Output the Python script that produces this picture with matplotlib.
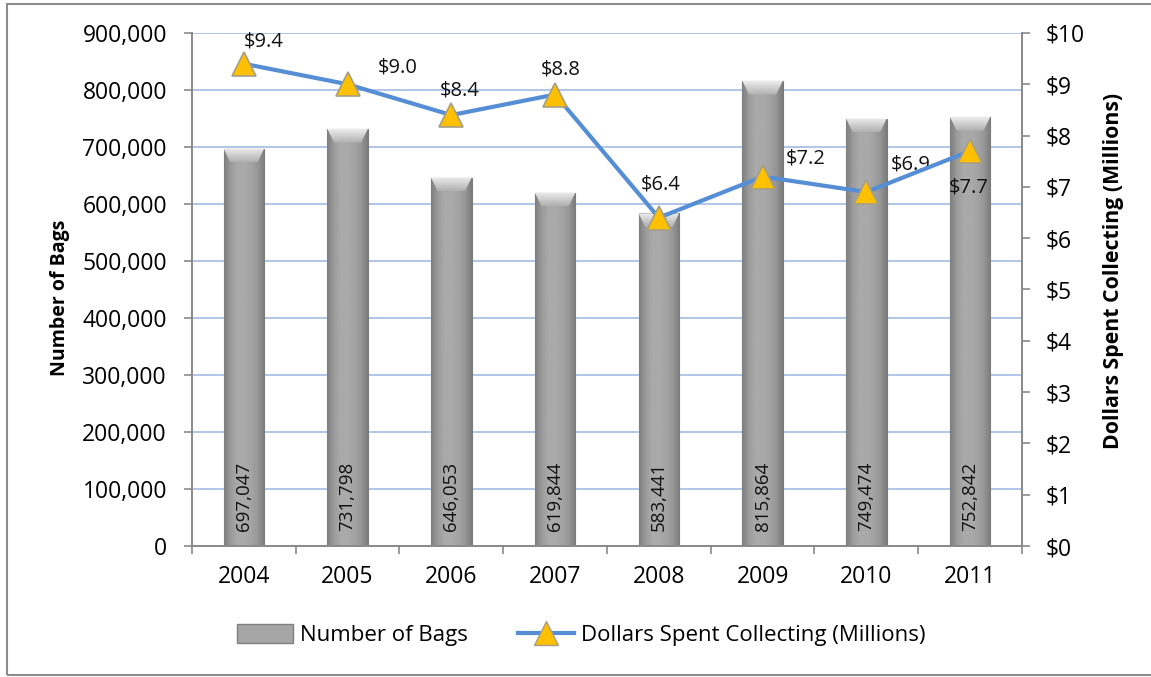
import matplotlib
matplotlib.use("Agg")
import matplotlib.pyplot as plt
import numpy as np
from matplotlib.colors import LinearSegmentedColormap
from matplotlib.lines import Line2D
from matplotlib.patches import Patch, Polygon, Rectangle
from matplotlib.ticker import FuncFormatter, MultipleLocator

plt.rcParams['font.family'] = ['Open Sans', 'DejaVu Sans']

years = ['2004', '2005', '2006', '2007', '2008', '2009', '2010', '2011']
bags = [697047, 731798, 646053, 619844, 583441, 815864, 749474, 752842]
dollars = [9.4, 9.0, 8.4, 8.8, 6.4, 7.2, 6.9, 7.7]
# label offsets (points) for the dollar labels
label_offsets = [(14, 16), (36, 12), (6, 18), (4, 18), (1, 24), (31, 13), (32, 20), (-1, -26)]

bar_gray = LinearSegmentedColormap.from_list(
    'bar_gray', ['#7f7f7f', '#9c9c9c', '#aaaaaa', '#aaaaaa', '#a4a4a4', '#979797', '#7c7c7c'])
bevel_gray = LinearSegmentedColormap.from_list('bevel_gray', ['#b0b0b0', '#ececec'])
line_blue = '#558ed5'
grid_blue = '#b0c6e8'
axis_gray = '#898989'

fig = plt.figure(figsize=(11.51, 6.77), dpi=100)
ax = fig.add_axes([0.1668, 0.1935, 0.7211, 0.7578])
x = np.arange(len(years))

bar_w = 0.39
bars = ax.bar(x, bags, width=bar_w, color='#a6a6a6', edgecolor='#7a7a7a', linewidth=0.8, zorder=2)
grad = np.linspace(0, 1, 64).reshape(1, -1)
vgrad = np.linspace(0, 1, 32).reshape(-1, 1)
bevel_h = 24000
bevel_in = 0.065
for b in bars:
    bx, by = b.get_xy()
    bw, bh = b.get_width(), b.get_height()
    im = ax.imshow(grad, extent=[bx, bx + bw, by, by + bh], aspect='auto', origin='lower',
                   cmap=bar_gray, zorder=2.1, interpolation='bilinear')
    im.set_clip_path(b)
    # lighter bevel on top of each bar
    top = by + bh
    bev = Polygon([(bx, top), (bx + bw, top), (bx + bw - bevel_in, top - bevel_h),
                   (bx + bevel_in, top - bevel_h)], closed=True, facecolor='none',
                  edgecolor='none', zorder=2.2)
    ax.add_patch(bev)
    bim = ax.imshow(vgrad, extent=[bx, bx + bw, top - bevel_h, top], aspect='auto',
                    origin='lower', cmap=bevel_gray, zorder=2.2, interpolation='bilinear')
    bim.set_clip_path(bev)

for xi, v in zip(x, bags):
    ax.annotate(f'{v:,}', (xi, 0), xytext=(0, 11), textcoords='offset points',
                rotation=90, ha='center', va='bottom', fontsize=13.5, color='#111111', zorder=3)

ax.set_xlim(-0.5, len(years) - 0.5)
ax.set_ylim(0, 900000)
ax.yaxis.set_major_locator(MultipleLocator(100000))
ax.yaxis.set_major_formatter(FuncFormatter(lambda v, p: f'{int(v):,}'))
ax.set_xticks(x)
ax.set_xticklabels(years)
ax.set_xticks(np.arange(len(years) + 1) - 0.5, minor=True)
ax.tick_params(axis='x', which='major', length=0, pad=14, labelsize=16.5)
ax.tick_params(axis='x', which='minor', length=6, width=1.2, color=axis_gray, direction='out')
ax.tick_params(axis='y', length=6, width=1.2, color=axis_gray, pad=12, labelsize=16.5)
ax.grid(axis='y', color=grid_blue, linewidth=1.4, zorder=0)
ax.set_axisbelow(True)
for s in ['top', 'right']:
    ax.spines[s].set_visible(False)
for s in ['left', 'bottom']:
    ax.spines[s].set_color(axis_gray)
    ax.spines[s].set_linewidth(1.4)

ax2 = ax.twinx()
ax2.plot(x, dollars, color=line_blue, linewidth=3, marker='^', markersize=17,
         markerfacecolor='#ffc000', markeredgecolor='#a59f86', markeredgewidth=1.2, zorder=4)
for xi, v, (dx, dy) in zip(x, dollars, label_offsets):
    ax2.annotate(f'${v:.1f}', (xi, v), xytext=(dx, dy), textcoords='offset points',
                 ha='center', va='center', fontsize=14.5, color='#111111')
ax2.set_ylim(0, 10)
ax2.yaxis.set_major_locator(MultipleLocator(1))
ax2.yaxis.set_major_formatter(FuncFormatter(lambda v, p: f'${int(v)}'))
ax2.tick_params(axis='y', length=6, width=1.2, color=axis_gray, pad=11, labelsize=16.5)
for s in ['top', 'left', 'bottom']:
    ax2.spines[s].set_visible(False)
ax2.spines['right'].set_color(axis_gray)
ax2.spines['right'].set_linewidth(1.4)

fig.text(60 / 1151, 1 - 298 / 677, 'Number of Bags', rotation=90, ha='center', va='center',
         fontsize=14, fontweight='bold')
fig.text(1113 / 1151, 1 - 271 / 677, 'Dollars Spent Collecting (Millions)', rotation=90,
         ha='center', va='center', fontsize=15.3, fontweight='bold')

handles = [Patch(facecolor='#a6a6a6', edgecolor='#7f7f7f'),
           Line2D([], [], color=line_blue, linewidth=3, marker='^', markersize=17,
                  markerfacecolor='#ffc000', markeredgecolor='#a59f86')]
fig.legend(handles, ['Number of Bags', 'Dollars Spent Collecting (Millions)'],
           loc='center', bbox_to_anchor=(0.505, 0.062), ncol=2, frameon=False,
           fontsize=16, handlelength=2.5, handleheight=0.9, handletextpad=0.3,
           columnspacing=2.3)

fig.patches.append(Rectangle((0.006, 0.003), 1.2, 0.991, transform=fig.transFigure,
                             fill=False, edgecolor='#8c8c8c', linewidth=1.5))

fig.savefig('out.png', dpi=100)
